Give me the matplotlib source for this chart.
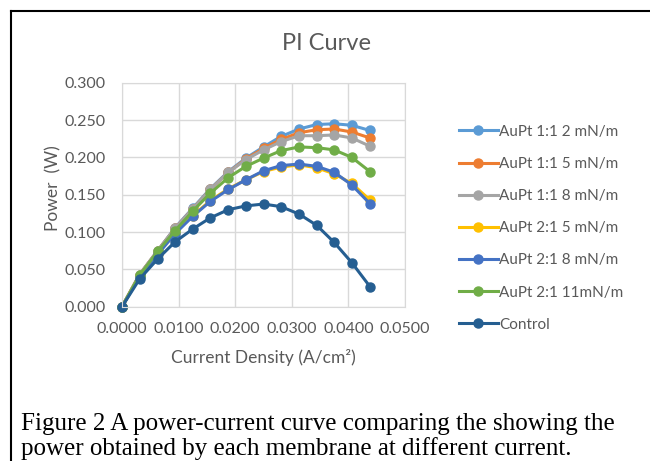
import matplotlib
matplotlib.use("Agg")
import matplotlib.pyplot as plt
from matplotlib.lines import Line2D

# current density (A/cm^2)
current = [0, 0.0031, 0.0063, 0.0094, 0.0125, 0.0156, 0.0188, 0.0219,
           0.0250, 0.0281, 0.0313, 0.0344, 0.0375, 0.0406, 0.0438]

# power (W) per membrane
aupt11_2 = [0, 0.043, 0.075, 0.106, 0.132, 0.158, 0.181, 0.199, 0.214, 0.228, 0.238, 0.244, 0.245, 0.243, 0.236]
aupt11_5 = [0, 0.043, 0.075, 0.105, 0.131, 0.157, 0.180, 0.198, 0.212, 0.224, 0.233, 0.237, 0.238, 0.234, 0.226]
aupt11_8 = [0, 0.043, 0.075, 0.105, 0.131, 0.157, 0.180, 0.197, 0.210, 0.221, 0.229, 0.229, 0.230, 0.226, 0.215]
aupt21_5 = [0, 0.041, 0.071, 0.099, 0.122, 0.142, 0.158, 0.170, 0.181, 0.187, 0.190, 0.186, 0.178, 0.165, 0.143]
aupt21_8 = [0, 0.040, 0.070, 0.098, 0.121, 0.141, 0.157, 0.170, 0.182, 0.189, 0.191, 0.188, 0.180, 0.163, 0.138]
aupt21_11 = [0, 0.042, 0.074, 0.102, 0.128, 0.152, 0.173, 0.188, 0.199, 0.209, 0.214, 0.213, 0.210, 0.200, 0.181]
control = [0, 0.037, 0.064, 0.087, 0.104, 0.119, 0.130, 0.135, 0.1375, 0.134, 0.124, 0.109, 0.086, 0.059, 0.027]

labels = ["AuPt 1:1 2 mN/m", "AuPt 1:1 5 mN/m", "AuPt 1:1 8 mN/m",
          "AuPt 2:1 5 mN/m", "AuPt 2:1 8 mN/m", "AuPt 2:1 11mN/m", "Control"]
series = [aupt11_2, aupt11_5, aupt11_8, aupt21_5, aupt21_8, aupt21_11, control]
colors = ["#5B9BD5", "#ED7D31", "#A5A5A5", "#FFC000", "#4472C4", "#70AD47", "#255E91"]

W, H = 650, 461
grey = "#595959"
font = "Lato"

fig = plt.figure(figsize=(W / 100, H / 100), dpi=100)
ax = fig.add_axes([122 / W, 1 - 306.7 / H, 283 / W, 224 / H])

for vals, lab, c in zip(series, labels, colors):
    ax.plot(current, vals, color=c, lw=2.2, marker="o", ms=6.5, label=lab)

ax.set_xlim(0, 0.05)
ax.set_ylim(0, 0.3)
ax.set_xticks([0, 0.01, 0.02, 0.03, 0.04, 0.05])
ax.set_yticks([0, 0.05, 0.1, 0.15, 0.2, 0.25, 0.3])
ax.set_xticklabels(["%.4f" % v for v in ax.get_xticks()], fontfamily=font, fontsize=11.5, color=grey)
ax.set_yticklabels(["%.3f" % v for v in ax.get_yticks()], fontfamily=font, fontsize=11.5, color=grey)
ax.tick_params(axis="x", length=0, pad=11)
ax.tick_params(axis="y", length=0, pad=12)
ax.grid(True, color="#D9D9D9", lw=1)
ax.set_axisbelow(True)
for s in ax.spines.values():
    s.set_color("#D9D9D9")
for p in ax.lines:
    p.set_clip_on(False)

fig.text(327 / W, 1 - 43 / H, "PI Curve", ha="center", va="center",
         fontfamily=font, fontsize=17, color=grey)
fig.text(53 / W, 1 - 188 / H, "Power  (W)", ha="center", va="center", rotation=90,
         fontfamily=font, fontsize=12.5, color=grey)
fig.text(263 / W, 1 - 358 / H, "Current Density (A/cm\u00b2)", ha="center", va="center",
         fontfamily=font, fontsize=12.5, color=grey)

# legend
handles = [Line2D([], [], color=c, lw=2.2, marker="o", ms=6.5) for c in colors]
fig.legend(handles, labels, loc="upper left", bbox_to_anchor=(445 / W, 1 - 111 / H),
           frameon=False, handlelength=2.55, labelspacing=1.19, handletextpad=0.1,
           prop={"family": font, "size": 11}, labelcolor=grey)

# document frame
fig.add_artist(Line2D([11 / W, 11 / W], [0, 1 - 11 / H], color="black", lw=1.5))
fig.add_artist(Line2D([11 / W, 1], [1 - 11 / H, 1 - 11 / H], color="black", lw=1.5))

fig.text(21 / W, 1 - 424 / H, "Figure 2 A power-current curve comparing the showing the",
         ha="left", va="center", fontfamily="Liberation Serif", fontsize=18, color="black")
fig.text(21 / W, 1 - 449 / H, "power obtained by each membrane at different current.",
         ha="left", va="center", fontfamily="Liberation Serif", fontsize=18, color="black")

fig.savefig("out.png", dpi=100)
